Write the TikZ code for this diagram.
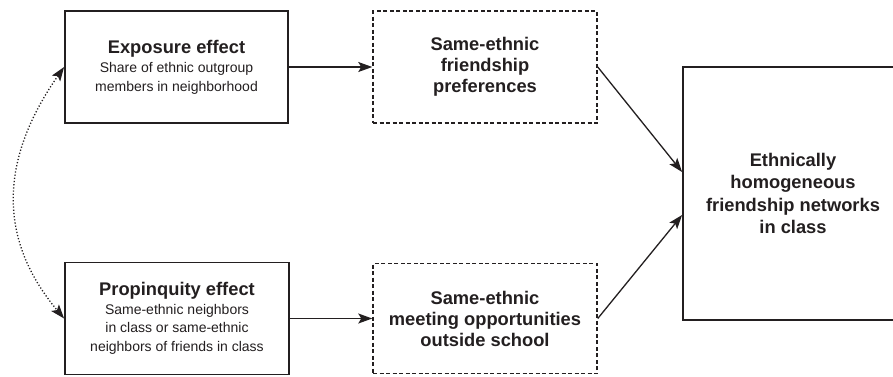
\documentclass[tikz,border=0pt]{standalone}
\usepackage{fontspec}
\setmainfont{Liberation Sans}
\usetikzlibrary{arrows.meta}
\definecolor{ink}{HTML}{231F20}
\begin{document}
\begin{tikzpicture}[x=1pt,y=-1pt,
  box/.style={draw=ink, line width=1.8pt, minimum width=224pt, minimum height=112pt,
    inner sep=0pt, align=center, text=ink, font=\fontsize{14}{18.5}\selectfont},
  dbox/.style={box, dash pattern=on 4pt off 2.5pt, line width=1.5pt,
    font=\bfseries\fontsize{18.3}{21}\selectfont},
  conn/.style={draw=ink, line width=1.3pt, -{Stealth[length=14pt,width=10pt,inset=3pt]}},
  dotconn/.style={draw=ink, line width=1.3pt, dash pattern=on 1.2pt off 2pt,
    {Stealth[length=14pt,width=10pt,inset=3pt]}-{Stealth[length=14pt,width=10pt,inset=3pt]}}
]
\useasboundingbox (0,0) rectangle (893,376);
\clip (0,0) rectangle (893,376);
\fill[white] (0,0) rectangle (893,376);

\node[box, minimum width=223pt] (exp) at (176.5,67)
  {{\bfseries\fontsize{18.3}{22}\selectfont Exposure effect}\\[1pt]
   Share of ethnic outgroup\\members in neighborhood};
\node[dbox] (pref) at (485,67) {Same-ethnic\\friendship\\preferences};
\node[box] (prop) at (177,318.5)
  {{\bfseries\fontsize{18.3}{22}\selectfont Propinquity effect}\\[0pt]
   Same-ethnic neighbors\\in class or same-ethnic\\neighbors of friends in class};
\node[dbox, minimum height=110pt] (meet) at (485,318.5)
  {Same-ethnic\\meeting opportunities\\outside school};
\node[box, minimum width=220pt, minimum height=253pt,
  font=\bfseries\fontsize{18.3}{22.5}\selectfont] (out) at (793,193.5)
  {Ethnically\\homogeneous\\friendship networks\\in class};

\draw[conn] (exp) -- (pref);
\draw[conn] (prop) -- (meet);
\draw[conn] (pref.east) -- ([yshift=21.5pt]out.west);
\draw[conn] (meet.east) -- ([yshift=-21.5pt]out.west);
\draw[dotconn] (exp.west) to[out=235,in=130,looseness=1.1] (prop.west);
\end{tikzpicture}
\end{document}
